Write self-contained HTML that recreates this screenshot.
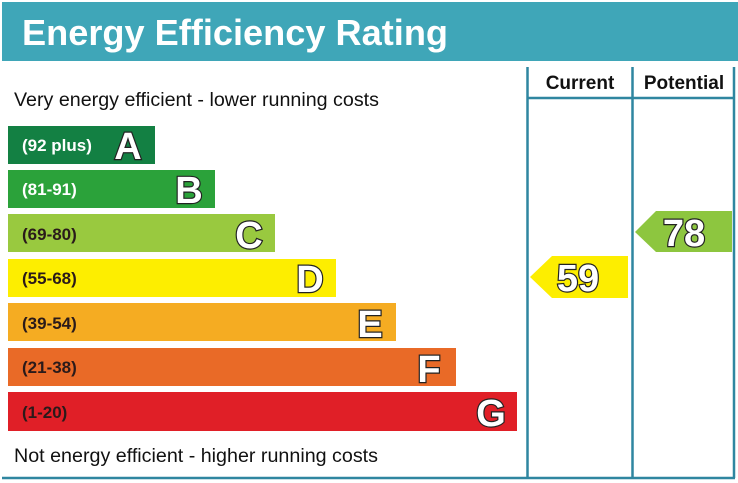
<!DOCTYPE html>
<html><head><meta charset="utf-8"><style>
html,body{margin:0;padding:0;background:#fff;}
svg{display:block;}
text{font-family:"Liberation Sans",Arial,sans-serif;}
.r{font-weight:bold;font-size:17px;fill:#2a1a1a;}
.L{font-weight:bold;font-size:38px;fill:#fff;stroke:#222;stroke-width:2.4px;paint-order:stroke;}
</style></head><body>
<svg width="738" height="483" viewBox="0 0 738 483">
<rect x="2" y="2" width="736" height="59" fill="#3fa6b8"/>
<text x="22" y="45" font-size="36" font-weight="bold" fill="#fff" textLength="426" lengthAdjust="spacingAndGlyphs">Energy Efficiency Rating</text>
<g stroke="#2f86a0" stroke-width="2.5" fill="none">
<line x1="527.5" y1="67" x2="527.5" y2="478"/>
<line x1="632.5" y1="67" x2="632.5" y2="478"/>
<line x1="734" y1="67" x2="734" y2="478"/>
<line x1="527" y1="98" x2="734" y2="98"/>
<line x1="2" y1="478" x2="735" y2="478"/>
</g>
<text x="580" y="89" font-size="19" font-weight="bold" fill="#111" text-anchor="middle">Current</text>
<text x="684" y="89" font-size="19" font-weight="bold" fill="#111" text-anchor="middle">Potential</text>
<text x="14" y="106" font-size="19" fill="#111" textLength="365" lengthAdjust="spacingAndGlyphs">Very energy efficient - lower running costs</text>
<text x="14" y="462" font-size="19" fill="#111" textLength="364" lengthAdjust="spacingAndGlyphs">Not energy efficient - higher running costs</text>

<rect x="8" y="126" width="147" height="38" fill="#138043"/>
<text x="22" y="151" class="r" style="fill:#fff">(92 plus)</text>
<text x="128" y="159" class="L" text-anchor="middle">A</text>

<rect x="8" y="170" width="207" height="38" fill="#2ba23a"/>
<text x="22" y="195" class="r" style="fill:#fff">(81-91)</text>
<text x="189" y="203" class="L" text-anchor="middle">B</text>

<rect x="8" y="214" width="267" height="38" fill="#99c93f"/>
<text x="22" y="240" class="r">(69-80)</text>
<text x="249" y="248" class="L" text-anchor="middle">C</text>

<rect x="8" y="259" width="328" height="38" fill="#fdee00"/>
<text x="22" y="284" class="r">(55-68)</text>
<text x="310" y="292" class="L" text-anchor="middle">D</text>

<rect x="8" y="303" width="388" height="38" fill="#f5ac22"/>
<text x="22" y="329" class="r">(39-54)</text>
<text x="370" y="337" class="L" text-anchor="middle">E</text>

<rect x="8" y="348" width="448" height="38" fill="#e96a27"/>
<text x="22" y="373" class="r">(21-38)</text>
<text x="429" y="382" class="L" text-anchor="middle">F</text>

<rect x="8" y="392" width="509" height="39" fill="#e01f27"/>
<text x="22" y="418" class="r">(1-20)</text>
<text x="491" y="426" class="L" text-anchor="middle">G</text>

<polygon points="530,277 552,256 628,256 628,298 552,298" fill="#fdee00"/>
<text x="578" y="291" class="L" text-anchor="middle">59</text>

<polygon points="635,232 656,211 732,211 732,252 656,252" fill="#8dc63f"/>
<text x="684" y="246" class="L" text-anchor="middle">78</text>
</svg>
</body></html>
